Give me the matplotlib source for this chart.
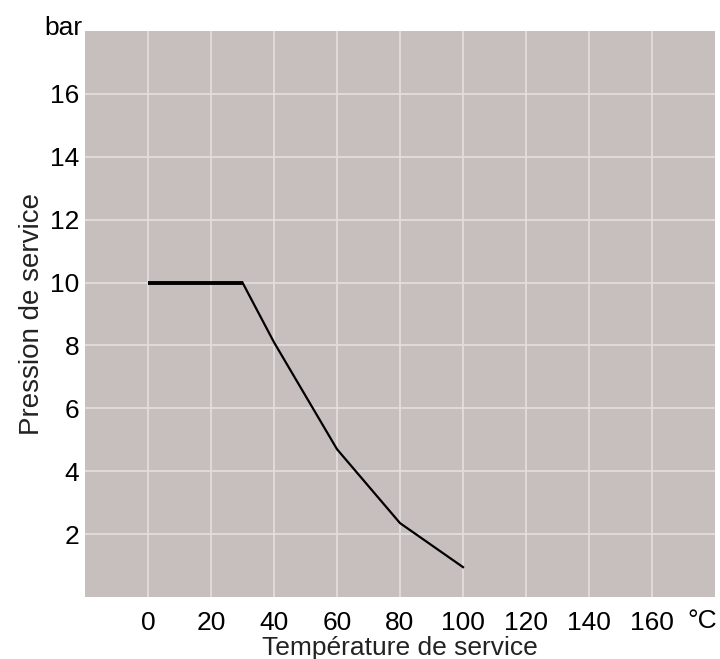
import numpy as np
import matplotlib
matplotlib.use('Agg')
import matplotlib.pyplot as plt

plt.rcParams['font.family'] = ['Liberation Sans', 'DejaVu Sans']

# courbe pression / température
temp = [0, 30, 40, 60, 80, 100]
pres = [10, 10, 8.1, 4.7, 2.35, 0.95]

xticks = [0, 20, 40, 60, 80, 100, 120, 140, 160]
yticks = [2, 4, 6, 8, 10, 12, 14, 16]

fig = plt.figure(figsize=(7.2, 6.59), dpi=100)
ax = fig.add_axes([85/720, 1-597/659, 630/720, 566/659])
ax.set_facecolor('#c6bfbd')

ax.set_xlim(-20, 180)
ax.set_ylim(0, 18)
ax.set_xticks(xticks)
ax.set_yticks(yticks)
ax.grid(True, color='#e2dedc', lw=1.3)
ax.set_axisbelow(True)
for s in ax.spines.values():
    s.set_visible(False)
ax.tick_params(length=0, labelsize=19, colors='black')
ax.tick_params(axis='x', pad=10)
ax.tick_params(axis='y', pad=4)

# segment plat un peu plus épais comme sur l'original
ax.plot(temp[:2], pres[:2], color='black', lw=2.8, solid_capstyle='butt')
ax.plot(temp[1:], pres[1:], color='black', lw=1.6)

ax.set_xlabel('Température de service', fontsize=19, labelpad=1, color='#222222')
ax.set_ylabel('Pression de service', fontsize=20, labelpad=4, color='#222222')

fig.text(82/720, 1-35/659, 'bar', ha='right', va='baseline', fontsize=19)
fig.text(717/720, 1-609/659, '°C', ha='right', va='top', fontsize=19)

fig.savefig('out.png', dpi=100)
